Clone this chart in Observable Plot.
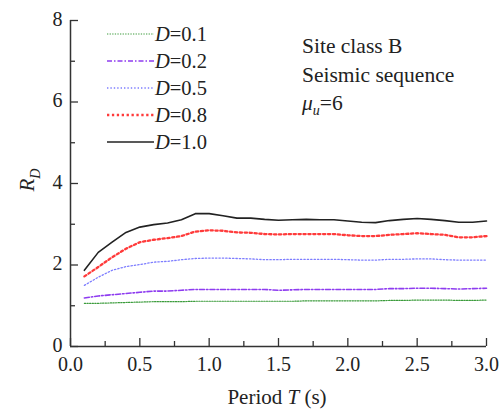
<!DOCTYPE html>
<html><head><meta charset="utf-8">
<script src="https://cdn.jsdelivr.net/npm/d3@7"></script>
<script src="https://cdn.jsdelivr.net/npm/@observablehq/plot@0.6"></script>
</head>
<body style="margin:0;background:#fff"><div id="chart"></div>
<script>
const periods = [0.1,0.2,0.3,0.4,0.5,0.6,0.7,0.8,0.9,1.0,1.1,1.2,1.3,1.4,1.5,1.6,1.7,1.8,1.9,2.0,2.1,2.2,2.3,2.4,2.5,2.6,2.7,2.8,2.9,3.0];
const d01 = [1.06,1.06,1.07,1.08,1.09,1.10,1.10,1.10,1.11,1.11,1.11,1.11,1.11,1.11,1.11,1.11,1.12,1.12,1.12,1.12,1.12,1.12,1.13,1.13,1.14,1.14,1.14,1.13,1.13,1.14];
const d02 = [1.19,1.24,1.27,1.30,1.33,1.36,1.36,1.38,1.40,1.40,1.40,1.40,1.40,1.40,1.38,1.39,1.40,1.40,1.40,1.40,1.40,1.40,1.42,1.42,1.43,1.43,1.42,1.41,1.42,1.43];
const d05 = [1.50,1.70,1.87,1.96,2.01,2.07,2.09,2.13,2.16,2.17,2.17,2.16,2.15,2.13,2.13,2.14,2.14,2.14,2.14,2.13,2.12,2.12,2.14,2.14,2.15,2.15,2.13,2.12,2.12,2.12];
const d08 = [1.72,1.95,2.19,2.40,2.56,2.62,2.66,2.71,2.82,2.85,2.84,2.80,2.79,2.76,2.75,2.76,2.76,2.76,2.76,2.73,2.71,2.71,2.74,2.76,2.78,2.76,2.74,2.68,2.68,2.71];
const d10 = [1.87,2.31,2.56,2.80,2.93,2.99,3.03,3.11,3.26,3.26,3.21,3.15,3.15,3.12,3.10,3.11,3.12,3.11,3.11,3.08,3.05,3.04,3.09,3.12,3.14,3.12,3.09,3.05,3.05,3.08];
const seriesNames = ["0.1","0.2","0.5","0.8","1.0"];
const xTicks = [0,0.5,1,1.5,2,2.5,3];
const xMinor = [0.25,0.75,1.25,1.75,2.25,2.75];
const yTicks = [0,2,4,6,8];
const yMinor = [1,3,5,7];
const annotLines = ["Site class B","Seismic sequence"];

const styles = {
  "0.1": {stroke:"#3c9c3c", w:1.2, dash:"1.3 1.3"},
  "0.2": {stroke:"#8e3cf0", w:1.6, dash:"5 2 1.5 2"},
  "0.5": {stroke:"#7d7dff", w:1.3, dash:"1.4 2"},
  "0.8": {stroke:"#ff3a3a", w:2.3, dash:"2.3 2.6"},
  "1.0": {stroke:"#222222", w:1.6, dash:null}
};
const allSeries = [d01,d02,d05,d08,d10];
const data = [];
seriesNames.forEach((s,i)=>periods.forEach((t,j)=>data.push({D:s,T:t,R:allSeries[i][j]})));

const W=501,H=412,mL=70,mR=15,mT=20,mB=66;
const frameW=W-mL-mR, frameH=H-mT-mB;
const FONT="Liberation Serif";

const marks = [];
seriesNames.forEach(s=>{
  const st=styles[s];
  marks.push(Plot.line(data.filter(d=>d.D===s),{x:"T",y:"R",stroke:st.stroke,strokeWidth:st.w,strokeDasharray:st.dash||undefined,curve:"linear"}));
});
marks.push(
  Plot.ruleX([0],{stroke:"#333",strokeWidth:1.5}),
  Plot.ruleY([0],{stroke:"#333",strokeWidth:1.5}),
  Plot.tickY(yTicks,{y:d=>d,stroke:"#333",strokeWidth:1.3,insetRight:frameW-8}),
  Plot.tickY(yMinor,{y:d=>d,stroke:"#333",strokeWidth:1.3,insetRight:frameW-5}),
  Plot.tickX(xTicks,{x:d=>d,stroke:"#333",strokeWidth:1.3,insetTop:frameH-8}),
  Plot.tickX(xMinor,{x:d=>d,stroke:"#333",strokeWidth:1.3,insetTop:frameH-5}),
  Plot.axisY(yTicks,{tickSize:0,tickPadding:8,label:null,fontSize:20,tickFormat:d=>String(d),fill:"#222",dy:-1}),
  Plot.axisX(xTicks,{tickSize:0,tickPadding:10,label:null,fontSize:20,tickFormat:d=>d.toFixed(1),fill:"#222"})
);

const svg = Plot.plot({
  width:W,height:H,marginLeft:mL,marginRight:mR,marginTop:mT,marginBottom:mB,
  style:{fontFamily:FONT,background:"#fff",overflow:"visible"},
  x:{domain:[0,3]},
  y:{domain:[0,8]},
  marks
});
document.getElementById("chart").appendChild(svg);

const g = d3.select(svg).append("g").attr("fill","#222").attr("text-anchor","start");
seriesNames.forEach((s,i)=>{
  const st=styles[s];
  const y=34+i*27;
  g.append("line").attr("x1",107).attr("x2",154).attr("y1",y).attr("y2",y)
    .attr("stroke",st.stroke).attr("stroke-width",st.w).attr("stroke-dasharray",st.dash);
  const t=g.append("text").attr("x",155).attr("y",y+7).attr("font-size",20.5).attr("text-anchor","start");
  t.append("tspan").attr("font-style","italic").text("D");
  t.append("tspan").text("="+s);
});
annotLines.forEach((txt,i)=>{
  g.append("text").attr("x",302).attr("y",53+i*28.5).attr("font-size",21.5).attr("text-anchor","start").text(txt);
});
const mu=g.append("text").attr("x",302).attr("y",110).attr("font-size",21.5).attr("text-anchor","start");
mu.append("tspan").attr("font-style","italic").text("μ");
mu.append("tspan").attr("font-style","italic").attr("font-size",14).attr("dy",5).text("u");
mu.append("tspan").attr("dy",-5).text("=6");
const yl=g.append("text").attr("transform","translate(34,180) rotate(-90)").attr("text-anchor","middle").attr("font-size",21);
yl.append("tspan").attr("font-style","italic").text("R");
yl.append("tspan").attr("font-style","italic").attr("font-size",14).attr("dy",6).text("D");
const xl=g.append("text").attr("x",277).attr("y",404).attr("text-anchor","middle").attr("font-size",21);
xl.append("tspan").text("Period ");
xl.append("tspan").attr("font-style","italic").text("T");
xl.append("tspan").text(" (s)");
d3.select(svg).selectAll("text").style("font-family",FONT);
</script></body></html>
